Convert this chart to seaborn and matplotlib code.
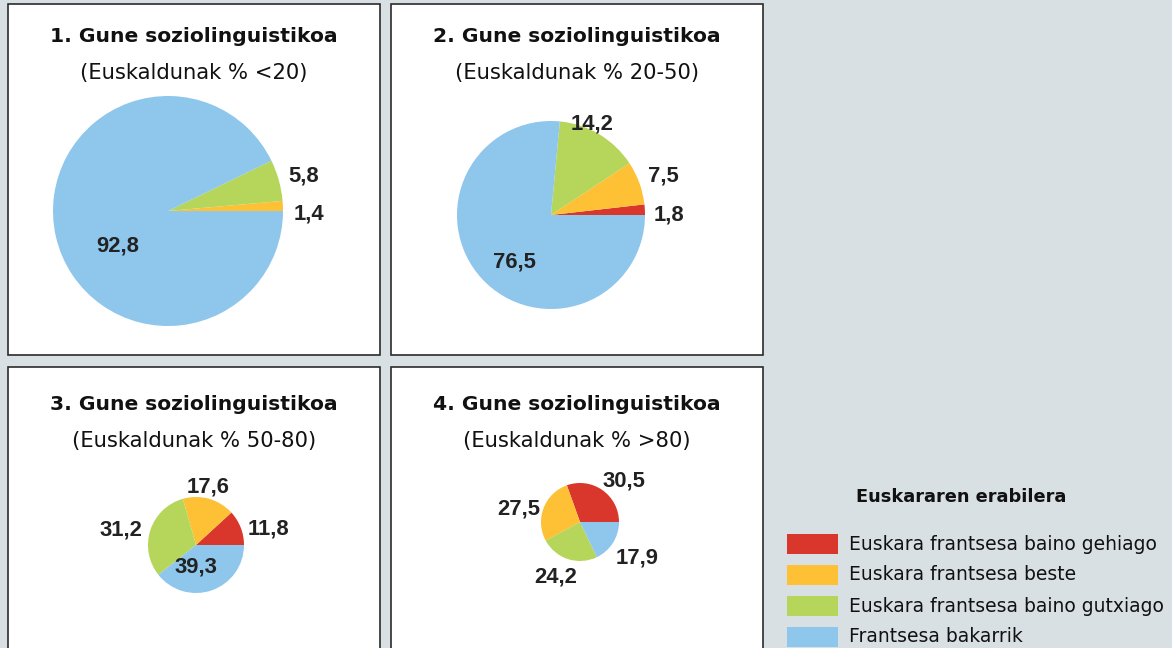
import matplotlib
matplotlib.use("Agg")
import matplotlib.pyplot as plt
from matplotlib.patches import Rectangle
import seaborn as sns

# Language-use categories and colours
categories = [
    "Euskara frantsesa baino gehiago",
    "Euskara frantsesa beste",
    "Euskara frantsesa baino gutxiago",
    "Frantsesa bakarrik",
]
colors = ["#d9372b", "#fec035", "#b5d55b", "#8ec6ec"]

titles = ["1. Gune soziolinguistikoa", "2. Gune soziolinguistikoa",
          "3. Gune soziolinguistikoa", "4. Gune soziolinguistikoa"]
subtitles = ["(Euskaldunak % <20)", "(Euskaldunak % 20-50)",
             "(Euskaldunak % 50-80)", "(Euskaldunak % >80)"]

# Shares per zone (red, orange, green, blue)
zone1 = [0.0, 1.4, 5.8, 92.8]
zone2 = [1.8, 7.5, 14.2, 76.5]
zone3 = [11.8, 17.6, 31.2, 39.3]
zone4 = [30.5, 27.5, 24.2, 17.9]
zones = [zone1, zone2, zone3, zone4]

sns.set_style("white")
plt.rcParams["font.family"] = ["DejaVu Sans"]
num_font = ["Liberation Sans", "DejaVu Sans"]

W, H = 1172, 648
fig = plt.figure(figsize=(W / 100, H / 100), dpi=100)
bg = "#d8e0e3"
fig.patch.set_facecolor(bg)
ax = fig.add_axes([0, 0, 1, 1])
ax.set_facecolor(bg)
ax.axis("off")

def Y(y):
    return H - y

# Panels: (x0, y0, x1, y1) in pixel layout
panels = [(8, 4, 380, 355), (391, 4, 763, 355),
          (8, 367, 380, 670), (391, 367, 763, 670)]
for (x0, y0, x1, y1) in panels:
    ax.add_patch(Rectangle((x0, Y(y1)), x1 - x0, y1 - y0, facecolor="white",
                           edgecolor="#2b2b2b", linewidth=1.2, zorder=1))

title_y = [36, 36, 405, 405]
sub_y = [73, 73, 441, 441]
for i, (x0, y0, x1, y1) in enumerate(panels):
    cx = (x0 + x1) / 2
    ax.text(cx, Y(title_y[i]), titles[i], ha="center", va="center",
            fontsize=14.6, fontweight="bold", color="#111111", zorder=3)
    ax.text(cx, Y(sub_y[i]), subtitles[i], ha="center", va="center",
            fontsize=15.2, color="#111111", zorder=3)

# Pie centres and radii
centers = [(168, 211), (551, 215), (196, 545), (580, 522)]
radii = [115, 94, 48, 39]

# Label placements (pixel layout) for each wedge, None = no label
label_pos = [
    [None, (309, 214), (304, 176), (118, 246)],
    [(669, 215), (663, 176), (592, 124), (514, 262)],
    [(268, 529), (208, 487), (121, 530), (196, 567)],
    [(624, 481), (519, 509), (556, 577), (637, 558)],
]

for vals, (cx, cy), r, lp in zip(zones, centers, radii, label_pos):
    ax.pie(vals, colors=colors, startangle=0, counterclock=True,
           center=(cx, Y(cy)), radius=r, frame=True,
           wedgeprops=dict(linewidth=0, zorder=2))
    for v, p in zip(vals, lp):
        if p is None or v == 0:
            continue
        ax.text(p[0], Y(p[1]), f"{v:.1f}".replace(".", ","), ha="center",
                va="center", fontsize=15.8, fontweight="bold",
                family=num_font, color="#222222", zorder=4)

# Legend
ax.text(961, Y(497), "Euskararen erabilera", ha="center", va="center",
        fontsize=12.8, fontweight="bold", color="#111111")
for k, (lab, c) in enumerate(zip(categories, colors)):
    yy = 544 + 31 * k
    ax.add_patch(Rectangle((787, Y(yy + 10)), 51, 20, facecolor=c,
                           edgecolor="none"))
    ax.text(849, Y(yy), lab, ha="left", va="center", fontsize=13.5,
            color="#111111")

ax.set_xlim(0, W)
ax.set_ylim(0, H)
ax.set_aspect("auto")
ax.axis("off")
fig.savefig("out.png", dpi=100, facecolor=bg)
